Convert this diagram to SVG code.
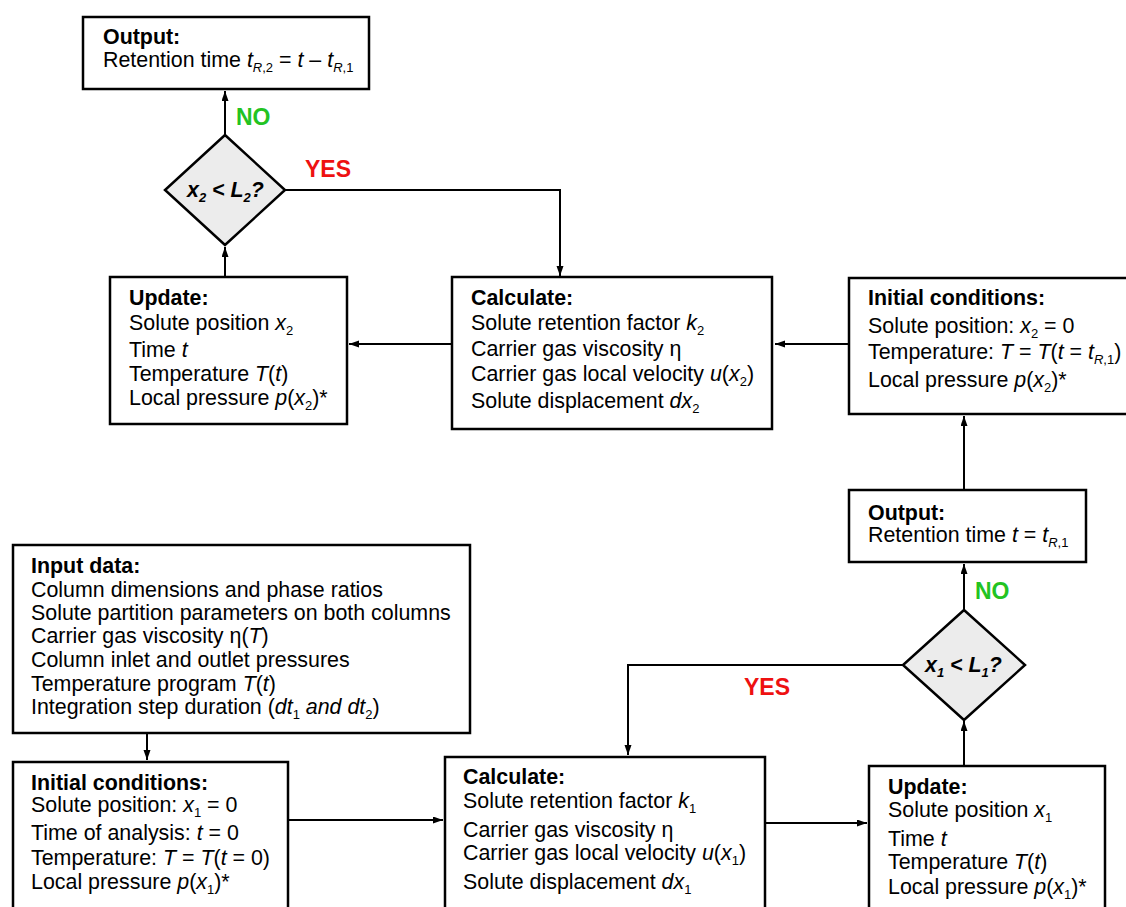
<svg xmlns="http://www.w3.org/2000/svg" width="1126" height="907" viewBox="0 0 1126 907">
<style>
text{font-family:"Liberation Sans",Arial,sans-serif;font-size:21.4px;fill:#000}
.b{font-weight:bold}
.i{font-style:italic}
.s{font-size:13px}
.box{fill:#fff;stroke:#000;stroke-width:2.5}
.dia{fill:#ececec;stroke:#000;stroke-width:2.5}
.c{fill:none;stroke:#000;stroke-width:2}
.yes{fill:#ee1111;font-weight:bold;font-size:23px}
.no{fill:#22c322;font-weight:bold;font-size:23px}
</style>
<defs>
<marker id="ar" markerWidth="10" markerHeight="8" refX="10" refY="3.5" orient="auto" markerUnits="userSpaceOnUse">
<path d="M0,0 L10,3.5 L0,7 z" fill="#000"/>
</marker>
</defs>
<rect width="1126" height="907" fill="#fff"/>

<g id="connectors">
<path class="c" d="M225,135 V91" marker-end="url(#ar)"/>
<path class="c" d="M225,277 V247" marker-end="url(#ar)"/>
<path class="c" d="M285,190 H560 V276" marker-end="url(#ar)"/>
<path class="c" d="M452,344 H349" marker-end="url(#ar)"/>
<path class="c" d="M849,344 H775" marker-end="url(#ar)"/>
<path class="c" d="M964,490 V416" marker-end="url(#ar)"/>
<path class="c" d="M964,610 V564" marker-end="url(#ar)"/>
<path class="c" d="M903,665 H628 V755" marker-end="url(#ar)"/>
<path class="c" d="M964,766 V721" marker-end="url(#ar)"/>
<path class="c" d="M147,733 V760" marker-end="url(#ar)"/>
<path class="c" d="M288,820 H443" marker-end="url(#ar)"/>
<path class="c" d="M765,823 H867" marker-end="url(#ar)"/>
<text class="no" x="236" y="125">NO</text>
<text class="yes" x="305" y="177">YES</text>
<text class="no" x="975" y="599">NO</text>
<text class="yes" x="744" y="695">YES</text>
</g>

<g id="output2">
<rect class="box" x="83" y="17" width="286" height="72"/>
<text class="b" x="103" y="44">Output:</text>
<text x="103" y="67">Retention time <tspan class="i">t</tspan><tspan class="s i" dy="5">R</tspan><tspan class="s">,2</tspan><tspan dy="-5"> = </tspan><tspan class="i">t</tspan> – <tspan class="i">t</tspan><tspan class="s i" dy="5">R</tspan><tspan class="s">,1</tspan></text>
</g>

<g id="decision2">
<polygon class="dia" points="225,135 285,190 225,245 165,190"/>
<text class="b i" x="187" y="197">x<tspan class="s" dy="5">2</tspan><tspan dy="-5"> &lt; L</tspan><tspan class="s" dy="5">2</tspan><tspan dy="-5">?</tspan></text>
</g>

<g id="update2">
<rect class="box" x="110" y="277" width="237" height="147"/>
<text class="b" x="129" y="305">Update:</text>
<text x="129" y="330">Solute position <tspan class="i">x</tspan><tspan class="s" dy="5">2</tspan></text>
<text x="129" y="357">Time <tspan class="i">t</tspan></text>
<text x="129" y="381">Temperature <tspan class="i">T</tspan>(<tspan class="i">t</tspan>)</text>
<text x="129" y="405">Local pressure <tspan class="i">p</tspan>(<tspan class="i">x</tspan><tspan class="s" dy="5">2</tspan><tspan dy="-5">)*</tspan></text>
</g>

<g id="calculate2">
<rect class="box" x="452" y="277" width="320" height="152"/>
<text class="b" x="471" y="305">Calculate:</text>
<text x="471" y="330">Solute retention factor <tspan class="i">k</tspan><tspan class="s" dy="5">2</tspan></text>
<text x="471" y="356">Carrier gas viscosity η</text>
<text x="471" y="381">Carrier gas local velocity <tspan class="i">u</tspan>(<tspan class="i">x</tspan><tspan class="s" dy="5">2</tspan><tspan dy="-5">)</tspan></text>
<text x="471" y="408">Solute displacement <tspan class="i">dx</tspan><tspan class="s" dy="5">2</tspan></text>
</g>

<g id="initial2">
<rect class="box" x="849" y="278" width="290" height="136"/>
<text class="b" x="868" y="305">Initial conditions:</text>
<text x="868" y="333">Solute position: <tspan class="i">x</tspan><tspan class="s" dy="5">2</tspan><tspan dy="-5"> = 0</tspan></text>
<text x="868" y="359">Temperature: <tspan class="i">T</tspan> = <tspan class="i">T</tspan>(<tspan class="i">t</tspan> = <tspan class="i">t</tspan><tspan class="s i" dy="5">R</tspan><tspan class="s">,1</tspan><tspan dy="-5">)</tspan></text>
<text x="868" y="387">Local pressure <tspan class="i">p</tspan>(<tspan class="i">x</tspan><tspan class="s" dy="5">2</tspan><tspan dy="-5">)*</tspan></text>
</g>

<g id="output1">
<rect class="box" x="849" y="490" width="237" height="72"/>
<text class="b" x="868" y="520">Output:</text>
<text x="868" y="542">Retention time <tspan class="i">t</tspan> = <tspan class="i">t</tspan><tspan class="s i" dy="5">R</tspan><tspan class="s">,1</tspan></text>
</g>

<g id="decision1">
<polygon class="dia" points="964,610 1025,665 964,720 903,665"/>
<text class="b i" x="925" y="672">x<tspan class="s" dy="5">1</tspan><tspan dy="-5"> &lt; L</tspan><tspan class="s" dy="5">1</tspan><tspan dy="-5">?</tspan></text>
</g>

<g id="input">
<rect class="box" x="13" y="545" width="457" height="188"/>
<text class="b" x="31" y="573">Input data:</text>
<text x="31" y="597">Column dimensions and phase ratios</text>
<text x="31" y="620">Solute partition parameters on both columns</text>
<text x="31" y="643">Carrier gas viscosity η(<tspan class="i">T</tspan>)</text>
<text x="31" y="667">Column inlet and outlet pressures</text>
<text x="31" y="691">Temperature program <tspan class="i">T</tspan>(<tspan class="i">t</tspan>)</text>
<text x="31" y="714">Integration step duration (<tspan class="i">dt</tspan><tspan class="s" dy="5">1</tspan><tspan class="i" dy="-5"> and dt</tspan><tspan class="s" dy="5">2</tspan><tspan dy="-5">)</tspan></text>
</g>

<g id="initial1">
<rect class="box" x="13" y="762" width="275" height="160"/>
<text class="b" x="31" y="790">Initial conditions:</text>
<text x="31" y="812">Solute position: <tspan class="i">x</tspan><tspan class="s" dy="5">1</tspan><tspan dy="-5"> = 0</tspan></text>
<text x="31" y="840">Time of analysis: <tspan class="i">t</tspan> = 0</text>
<text x="31" y="865">Temperature: <tspan class="i">T</tspan> = <tspan class="i">T</tspan>(<tspan class="i">t</tspan> = 0)</text>
<text x="31" y="889">Local pressure <tspan class="i">p</tspan>(<tspan class="i">x</tspan><tspan class="s" dy="5">1</tspan><tspan dy="-5">)*</tspan></text>
</g>

<g id="calculate1">
<rect class="box" x="445" y="757" width="320" height="165"/>
<text class="b" x="463" y="784">Calculate:</text>
<text x="463" y="808">Solute retention factor <tspan class="i">k</tspan><tspan class="s" dy="5">1</tspan></text>
<text x="463" y="837">Carrier gas viscosity η</text>
<text x="463" y="860">Carrier gas local velocity <tspan class="i">u</tspan>(<tspan class="i">x</tspan><tspan class="s" dy="5">1</tspan><tspan dy="-5">)</tspan></text>
<text x="463" y="889">Solute displacement <tspan class="i">dx</tspan><tspan class="s" dy="5">1</tspan></text>
</g>

<g id="update1">
<rect class="box" x="869" y="766" width="236" height="160"/>
<text class="b" x="888" y="794">Update:</text>
<text x="888" y="817">Solute position <tspan class="i">x</tspan><tspan class="s" dy="5">1</tspan></text>
<text x="888" y="846">Time <tspan class="i">t</tspan></text>
<text x="888" y="869">Temperature <tspan class="i">T</tspan>(<tspan class="i">t</tspan>)</text>
<text x="888" y="894">Local pressure <tspan class="i">p</tspan>(<tspan class="i">x</tspan><tspan class="s" dy="5">1</tspan><tspan dy="-5">)*</tspan></text>
</g>
</svg>
